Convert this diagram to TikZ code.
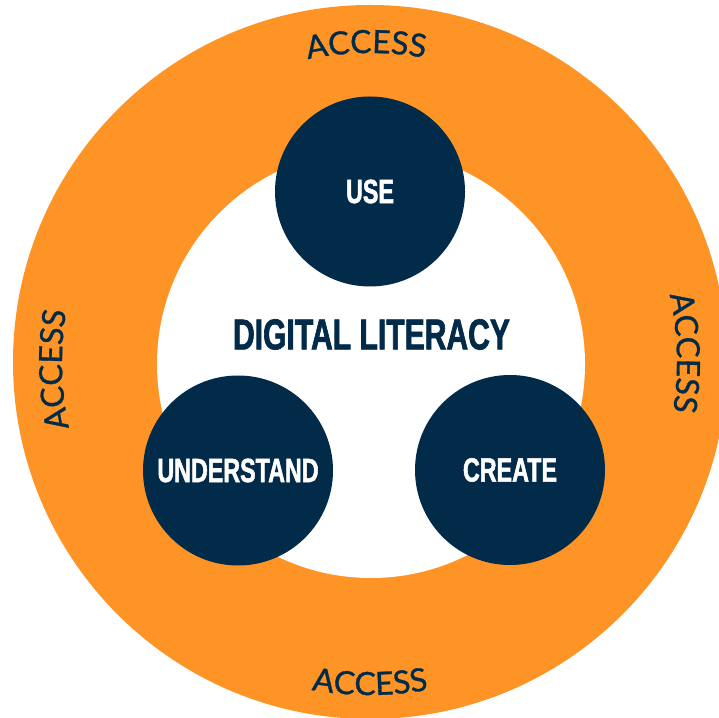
\documentclass[tikz,border=0pt]{standalone}
\usepackage{fontspec}
\usetikzlibrary{decorations.text}
\newfontfamily\condfont{Liberation Sans}[FakeStretch=0.695,FakeBold=1.5]
\newfontfamily\accfont{Lato}[FakeBold=0.9]
\definecolor{orng}{RGB}{254,148,38}
\definecolor{navy}{RGB}{1,43,72}
\begin{document}
\begin{tikzpicture}[x=1pt,y=1pt,
  hub/.style={circle, fill=navy, draw=none, minimum size=190pt, inner sep=0pt,
    text=white, font=\condfont\bfseries\fontsize{33.5}{36}\selectfont},
  acc/.style={decorate, decoration={text along path, text align=center,
    text={|\accfont\fontsize{32}{34}\selectfont\color{navy}|ACCESS}}}]
\useasboundingbox (0,0) rectangle (719,717);
\fill[white] (0,0) rectangle (719,717);
\coordinate (oc) at (370,355);
\coordinate (ic) at (371,353);
\begin{scope}
  \clip (0,0) rectangle (719,717);
  \fill[orng] (oc) circle[radius=357pt];
\end{scope}
\fill[white] (ic) circle[radius=214pt];
\node[hub] (use) at (370,525.5) {USE};
\node[hub] (und) at (238,246.5) {UNDERSTAND};
\node[hub] (cre) at (510,247) {CREATE};
\node[text=navy, inner sep=0pt, font=\condfont\bfseries\fontsize{43.3}{46}\selectfont] (dl) at (371.5,382.5) {DIGITAL LITERACY};
\path[acc] ([shift={(120.7:309pt)}]oc) arc[start angle=120.7, end angle=60.7, radius=309pt];
\path[acc] ([shift={(31.7:307pt)}]oc) arc[start angle=31.7, end angle=-28.3, radius=307pt];
\path[acc] ([shift={(211.4:308pt)}]oc) arc[start angle=211.4, end angle=151.4, radius=308pt];
\path[acc] ([shift={(240:333pt)}]oc) arc[start angle=240, end angle=300, radius=333pt];
\end{tikzpicture}
\end{document}
